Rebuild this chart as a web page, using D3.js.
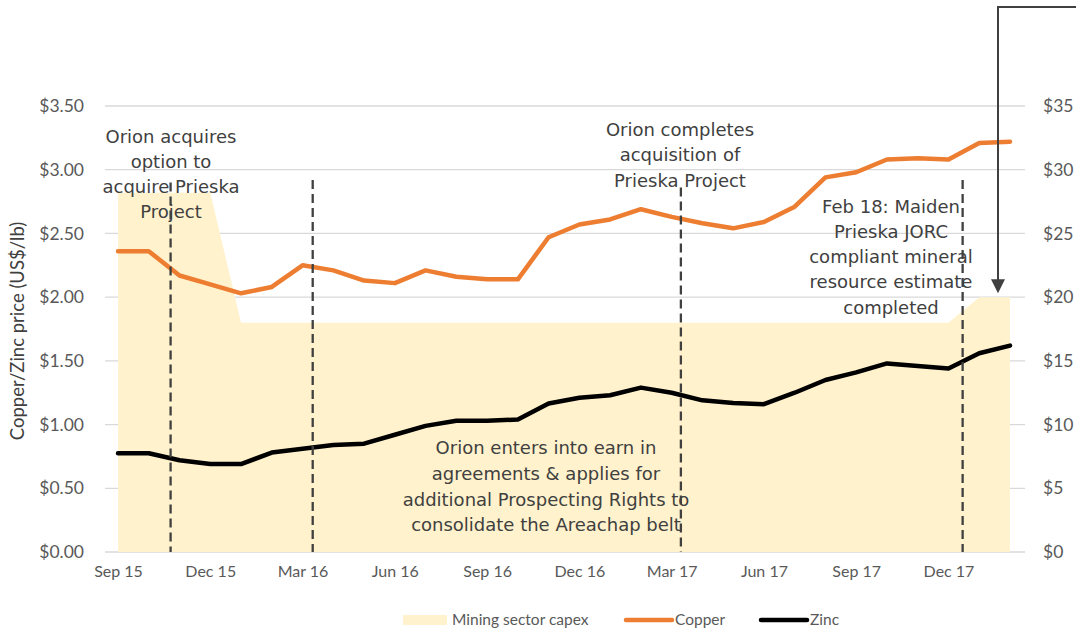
<!DOCTYPE html>
<html>
<head>
<meta charset="utf-8">
<script src="https://cdn.jsdelivr.net/npm/d3@7"></script>
<style>
  html, body { margin: 0; padding: 0; background: #fff; }
  svg { display: block; }
</style>
</head>
<body>
<svg id="chart" width="1076" height="630"></svg>
<script>
// ---------------- DATA ----------------
const months = ["Sep 15","Oct 15","Nov 15","Dec 15","Jan 16","Feb 16","Mar 16","Apr 16","May 16","Jun 16",
  "Jul 16","Aug 16","Sep 16","Oct 16","Nov 16","Dec 16","Jan 17","Feb 17","Mar 17","Apr 17",
  "May 17","Jun 17","Jul 17","Aug 17","Sep 17","Oct 17","Nov 17","Dec 17","Jan 18","Feb 18"];
const tickMonths = ["Sep 15","Dec 15","Mar 16","Jun 16","Sep 16","Dec 16","Mar 17","Jun 17","Sep 17","Dec 17"];
const copper = [2.36,2.36,2.17,2.10,2.03,2.08,2.25,2.21,2.13,2.11,
  2.21,2.16,2.14,2.14,2.47,2.57,2.61,2.69,2.63,2.58,
  2.54,2.59,2.71,2.94,2.98,3.08,3.09,3.08,3.21,3.22];
const zinc = [0.775,0.775,0.72,0.69,0.69,0.78,0.81,0.84,0.85,0.92,
  0.99,1.03,1.03,1.04,1.165,1.21,1.23,1.29,1.25,1.19,
  1.17,1.16,1.25,1.35,1.41,1.48,1.46,1.44,1.56,1.62];
const capex = [28.2,28.2,28.2,28.2,18,18,18,18,18,18,
  18,18,18,18,18,18,18,18,18,18,
  18,18,18,18,18,18,18,18,20,20];
const leftTicks = [0,0.5,1,1.5,2,2.5,3,3.5];
const rightTicks = [0,5,10,15,20,25,30,35];
// event markers: position as month index, top as left-axis value
const eventPos = [1.71, 6.33, 18.3, 27.46];
const eventTop = [2.90, 2.92, 2.86, 2.92];
const notes = [
  {lines:["Orion acquires","option to","acquire Prieska","Project"], cx:171, y0:143, lh:25},
  {lines:["Orion completes","acquisition of","Prieska Project"], cx:680, y0:136, lh:25.3},
  {lines:["Feb 18: Maiden","Prieska JORC","compliant mineral","resource estimate","completed"], cx:891, y0:212.7, lh:25.2},
  {lines:["Orion enters into earn in","agreements & applies for","additional Prospecting Rights to","consolidate the Areachap belt"], cx:546, y0:454, lh:25.8}
];

// ---------------- LAYOUT ----------------
const svg = d3.select("#chart");
const plotL = 105, plotR = 1025, plotT = 106, plotB = 552;
const x = d3.scalePoint().domain(months).range([118, 1010]);
const yL = d3.scaleLinear().domain([0, 3.5]).range([plotB, plotT]);
const yR = d3.scaleLinear().domain([0, 35]).range([plotB, plotT]);
const idxX = i => x(months[0]) + i * x.step();

const tickFont = "Lato, 'Liberation Sans', sans-serif";
const noteFont = "'DejaVu Sans', sans-serif";

// gridlines
svg.append("g").selectAll("line").data(leftTicks).join("line")
  .attr("x1", plotL).attr("x2", plotR)
  .attr("y1", d => yL(d)).attr("y2", d => yL(d))
  .attr("stroke", "#d9d9d9").attr("stroke-width", 1.3);

// capex area
const area = d3.area()
  .x((d, i) => x(months[i]))
  .y0(yR(0)).y1(d => yR(d));
svg.append("path").datum(capex).attr("d", area).attr("fill", "#fff2cc");

// axes labels
const gL = svg.append("g").attr("transform", `translate(${plotL},0)`)
  .call(d3.axisLeft(yL).tickValues(leftTicks).tickSize(0).tickPadding(21)
    .tickFormat(d => "$" + d3.format(".2f")(d)));
const gR = svg.append("g").attr("transform", `translate(${plotR},0)`)
  .call(d3.axisRight(yR).tickValues(rightTicks).tickSize(0).tickPadding(18)
    .tickFormat(d => "$" + d));
const gX = svg.append("g").attr("transform", `translate(0,${plotB})`)
  .call(d3.axisBottom(x).tickValues(tickMonths).tickSize(0).tickPadding(14));
[gL, gR, gX].forEach(g => {
  g.select(".domain").remove();
  g.selectAll("text").attr("fill", "#595959").style("font-family", tickFont);
});
gL.selectAll("text").style("font-size", "17.5px");
gR.selectAll("text").style("font-size", "17.5px");
gX.selectAll("text").style("font-size", "16px");

// y title
svg.append("text")
  .attr("transform", `translate(24,${(plotT + plotB) / 2 + 2}) rotate(-90)`)
  .attr("text-anchor", "middle")
  .style("font-family", tickFont).style("font-size", "18.5px")
  .attr("fill", "#404040")
  .text("Copper/Zinc price (US$/lb)");

// lines
const lineL = d3.line().x((d, i) => x(months[i])).y(d => yL(d));
svg.append("path").datum(copper).attr("d", lineL)
  .attr("fill", "none").attr("stroke", "#ed7d31").attr("stroke-width", 4.5)
  .attr("stroke-linecap", "round").attr("stroke-linejoin", "round");
svg.append("path").datum(zinc).attr("d", lineL)
  .attr("fill", "none").attr("stroke", "#000").attr("stroke-width", 4.5)
  .attr("stroke-linecap", "round").attr("stroke-linejoin", "round");

// event dashed lines
svg.append("g").selectAll("line").data(eventPos).join("line")
  .attr("x1", d => idxX(d)).attr("x2", d => idxX(d))
  .attr("y1", (d, i) => yL(eventTop[i])).attr("y2", yL(0))
  .attr("stroke", "#404040").attr("stroke-width", 2.3)
  .attr("stroke-dasharray", "9,5");

// annotation text
notes.forEach(n => {
  const t = svg.append("text")
    .attr("text-anchor", "middle")
    .style("font-family", noteFont).style("font-size", "18px")
    .attr("fill", "#404040");
  n.lines.forEach((ln, i) => {
    t.append("tspan").attr("x", n.cx).attr("y", n.y0 + i * n.lh).text(ln);
  });
});

// arrow annotation (connector from top right)
const ax = 998, ay0 = 7, ayTip = yR(20) - 4;
svg.append("path")
  .attr("d", `M1076,${ay0} H${ax} V${ayTip - 12}`)
  .attr("fill", "none").attr("stroke", "#404040").attr("stroke-width", 2);
svg.append("path")
  .attr("d", `M${ax - 7},${ayTip - 14} L${ax + 7},${ayTip - 14} L${ax},${ayTip} Z`)
  .attr("fill", "#404040");

// legend
const lg = svg.append("g").style("font-family", tickFont).style("font-size", "15.5px").attr("fill", "#595959");
lg.append("rect").attr("x", 403).attr("y", 615).attr("width", 44).attr("height", 10).attr("fill", "#fff2cc");
lg.append("text").attr("x", 452).attr("y", 625).text("Mining sector capex");
lg.append("line").attr("x1", 626).attr("x2", 672).attr("y1", 620).attr("y2", 620)
  .attr("stroke", "#ed7d31").attr("stroke-width", 4.5).attr("stroke-linecap", "round");
lg.append("text").attr("x", 675).attr("y", 625).text("Copper");
lg.append("line").attr("x1", 761).attr("x2", 807).attr("y1", 620).attr("y2", 620)
  .attr("stroke", "#000").attr("stroke-width", 4.5).attr("stroke-linecap", "round");
lg.append("text").attr("x", 810).attr("y", 625).text("Zinc");
</script>
</body>
</html>
